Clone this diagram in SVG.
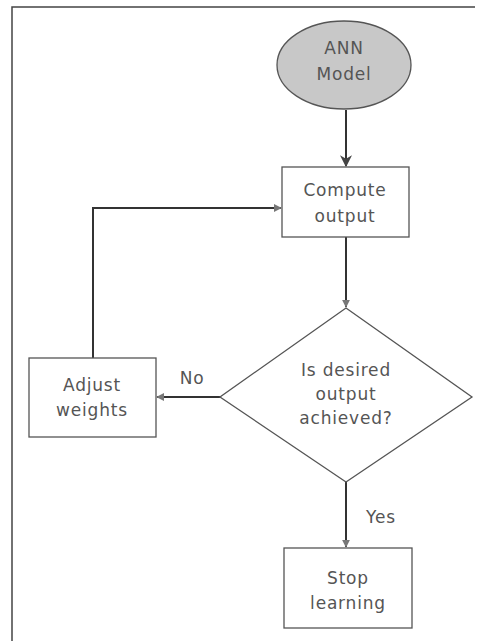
<svg xmlns="http://www.w3.org/2000/svg" width="480" height="641" viewBox="0 0 480 641">
<defs>
<style>
.node{fill:#fff;stroke:#555;stroke-width:1.3}
.lbl{font-family:"DejaVu Sans","Liberation Sans",sans-serif;font-size:17px;fill:#555;text-anchor:middle;letter-spacing:0.8px}
.edge{fill:none;stroke:#333;stroke-width:2}
.frame{fill:none;stroke:#444;stroke-width:1.5}
</style>
<marker id="ah" viewBox="0 0 10 10" refX="9" refY="5" markerWidth="4" markerHeight="4" orient="auto" markerUnits="strokeWidth">
<path d="M0,0 L10,5 L0,10 z" fill="#777"/>
</marker>
<marker id="ahBig" viewBox="0 0 10 10" refX="9" refY="5" markerWidth="6" markerHeight="6" orient="auto" markerUnits="strokeWidth">
<path d="M0,0 L10,5 L0,10 L3,5 z" fill="#444"/>
</marker>
</defs>
<rect width="480" height="641" fill="#fff"/>
<path class="frame" d="M12,641 V7 H475"/>
<g id="connectors">
<path class="edge" d="M346,110 V166" marker-end="url(#ahBig)"/>
<path class="edge" d="M346,237 V307" marker-end="url(#ah)"/>
<path class="edge" d="M346,482 V547" marker-end="url(#ah)"/>
<path class="edge" d="M220,397 H157" marker-end="url(#ah)"/>
<path class="edge" d="M93,358 V208 H281" marker-end="url(#ah)"/>
<text class="lbl" x="192" y="384">No</text>
<text class="lbl" x="381" y="523">Yes</text>
</g>
<g id="ann">
<ellipse cx="344" cy="65" rx="67" ry="44" fill="#c8c8c8" stroke="#555" stroke-width="1.3"/>
<text class="lbl" x="344" y="54">ANN</text>
<text class="lbl" x="344" y="80">Model</text>
</g>
<g id="compute">
<rect class="node" x="282" y="167" width="127" height="70"/>
<text class="lbl" x="345" y="196">Compute</text>
<text class="lbl" x="345" y="222">output</text>
</g>
<g id="decision">
<path class="node" d="M346,308 L472,397 L346,482 L220,397 Z"/>
<text class="lbl" x="346" y="376">Is desired</text>
<text class="lbl" x="346" y="400">output</text>
<text class="lbl" x="346" y="424">achieved?</text>
</g>
<g id="adjust">
<rect class="node" x="29" y="358" width="127" height="79"/>
<text class="lbl" x="92" y="391">Adjust</text>
<text class="lbl" x="92" y="416">weights</text>
</g>
<g id="stop">
<rect class="node" x="284" y="548" width="128" height="80"/>
<text class="lbl" x="348" y="584">Stop</text>
<text class="lbl" x="348" y="609">learning</text>
</g>
</svg>
